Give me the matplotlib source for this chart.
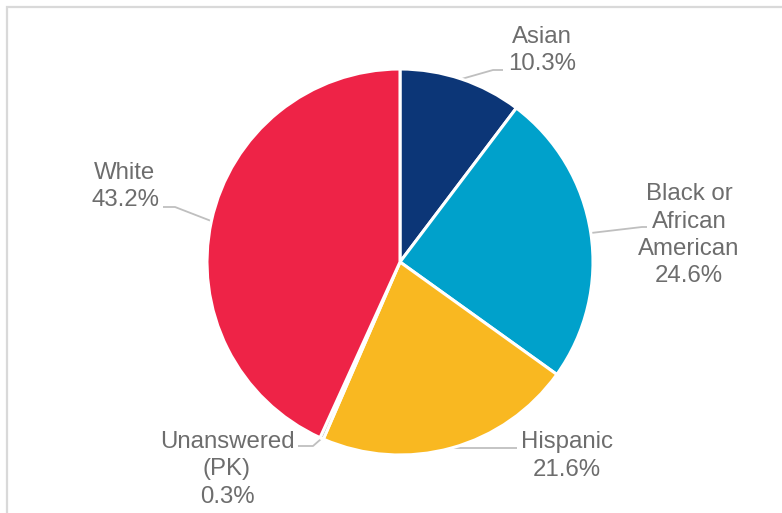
import numpy as np
import matplotlib
matplotlib.use("Agg")
import matplotlib.pyplot as plt
from matplotlib.patches import Rectangle

plt.rcParams['font.family'] = ['Liberation Sans', 'DejaVu Sans']

# Share of respondents by race/ethnicity (%)
categories = ["Asian", "Black or\nAfrican\nAmerican", "Hispanic", "Unanswered\n(PK)", "White"]
shares = [10.3, 24.6, 21.6, 0.3, 43.2]
colors = ["#0C3677", "#00A1CB", "#F9B821", "#A5A5A5", "#EE2347"]

W, H = 782, 513
fig = plt.figure(figsize=(W / 100, H / 100), dpi=100)
ax = fig.add_axes([0, 0, 1, 1])
ax.set_xlim(0, W)
ax.set_ylim(0, H)
ax.set_axis_off()

# light chart-area border (top and left edges visible)
fig.patches.append(Rectangle((7 / W, -0.1), 1.2, (H - 6.5) / H + 0.1,
                             transform=fig.transFigure, fill=False,
                             edgecolor="#D9D9D9", linewidth=1.6))

cx, cy, r = 400, H - 262, 193
wedges, _ = ax.pie(shares, colors=colors, startangle=90, counterclock=False,
                   center=(cx, cy), radius=r, frame=True,
                   wedgeprops=dict(edgecolor="white", linewidth=2.2))
ax.set_xlim(0, W)
ax.set_ylim(0, H)
ax.set_axis_off()

# label layout: text centre x, first baseline (px from top), leader elbow and end (px)
label_x = [542, 689, 567, 227, 125]
label_top = [43, 200, 448, 448, 179]
elbow = [(493, 70), (642, 227), (517, 448), (313, 446), (175, 207)]
leader_end = [(503, 70), (647, 227), (517, 448), (298, 446), (163, 207)]
line_gap = 27.5

text_color = "#6D6D6D"
for w, name, val, lx, ly, el, le in zip(wedges, categories, shares, label_x,
                                         label_top, elbow, leader_end):
    lines = name.split("\n") + [f"{val:.1f}%"]
    for i, t in enumerate(lines):
        ax.text(lx, H - (ly + i * line_gap), t, ha="center", va="baseline",
                fontsize=17.3, color=text_color)
    mid = np.deg2rad((w.theta1 + w.theta2) / 2)
    px, py = cx + r * np.cos(mid), cy + r * np.sin(mid)
    ax.plot([px, el[0], le[0]], [py, H - el[1], H - le[1]],
            color="#BFBFBF", linewidth=1.3, solid_capstyle="butt", zorder=0.5)

fig.savefig("out.png", dpi=100)
